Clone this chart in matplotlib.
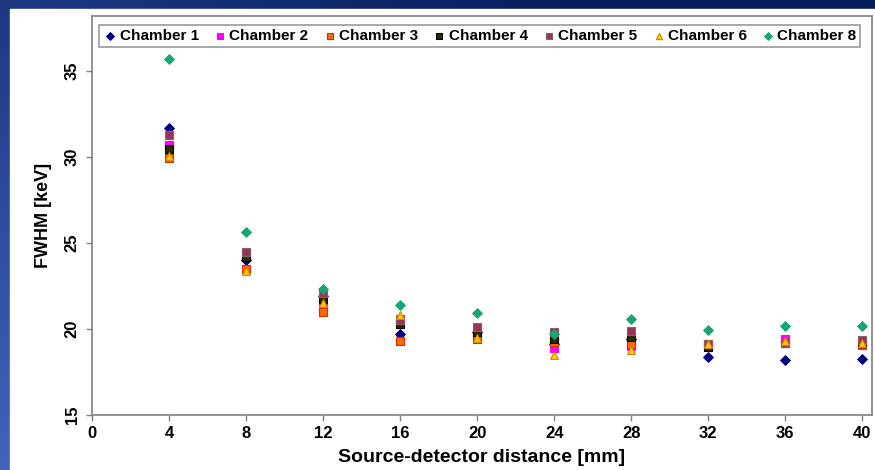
import numpy as np
import matplotlib
matplotlib.use("Agg")
import matplotlib.pyplot as plt
from matplotlib import font_manager

names = {f.name for f in font_manager.fontManager.ttflist}
narrow = 'Liberation Sans Narrow' if 'Liberation Sans Narrow' in names else 'Liberation Sans'
plt.rcParams['font.family'] = ['Liberation Sans', 'DejaVu Sans']

# distances [mm]
distance = [4, 8, 12, 16, 20, 24, 28, 32, 36, 40]

# FWHM [keV] per chamber
chamber_1 = [31.7, 24.0, 21.9, 19.7, 19.85, 19.1, 19.4, 18.4, 18.2, 18.25]
chamber_2 = [30.7, 24.4, 21.3, 20.6, 19.7, 18.9, 19.0, 19.15, 19.4, 19.05]
chamber_3 = [29.95, 23.5, 21.0, 19.3, 19.4, 19.25, 19.15, 19.1, 19.2, 19.15]
chamber_4 = [30.45, 24.2, 21.75, 20.3, 19.85, 19.4, 19.55, 18.95, 19.2, 19.2]
chamber_5 = [31.3, 24.5, 22.1, 20.55, 20.1, 19.85, 19.9, 19.15, 19.2, 19.35]
chamber_6 = [30.05, 23.4, 21.5, 20.8, 19.5, 18.5, 18.8, 19.1, 19.3, 19.2]
chamber_8 = [35.7, 25.65, 22.35, 21.4, 20.95, 19.7, 20.6, 19.95, 20.2, 20.2]

labels = ["Chamber 1", "Chamber 2", "Chamber 3", "Chamber 4",
          "Chamber 5", "Chamber 6", "Chamber 8"]
series = [chamber_1, chamber_2, chamber_3, chamber_4, chamber_5, chamber_6, chamber_8]
styles = [
    dict(marker='D', color='#000080', edgecolor='#000080', s=24),
    dict(marker='s', color='#ff00ff', edgecolor='#ff00ff', s=32),
    dict(marker='s', color='#ff6a00', edgecolor='#d03000', s=30),
    dict(marker='s', color='#2a2a00', edgecolor='#000000', s=28),
    dict(marker='s', color='#993355', edgecolor='#8a6070', s=36),
    dict(marker='^', color='#ffcc00', edgecolor='#e08000', s=32),
    dict(marker='D', color='#14a870', edgecolor='#14a870', s=24),
]

fig = plt.figure(figsize=(8.75, 4.7), dpi=100)

# blue gradient background behind white panel
bg = fig.add_axes([0, 0, 1, 1], zorder=-10)
xx, yy = np.meshgrid(np.linspace(0, 1, 200), np.linspace(0, 1, 100))
t = np.clip(0.6 * xx + 0.6 * yy, 0, 1)
c0 = np.array([0x42, 0x62, 0xbc]) / 255
c1 = np.array([0x06, 0x1c, 0x5c]) / 255
img = c0[None, None, :] * (1 - t[..., None]) + c1[None, None, :] * t[..., None]
bg.imshow(img, origin='lower', extent=[0, 1, 0, 1], aspect='auto')
bg.add_patch(plt.Rectangle((10 / 875, 0), 1, 1 - 9 / 470, color='white',
                           transform=bg.transAxes))
bg.set_xlim(0, 1)
bg.set_ylim(0, 1)
bg.axis('off')

ax = fig.add_axes([92 / 875, 55 / 470, 780 / 875, 399 / 470])
for vals, lab, st in zip(series, labels, styles):
    ax.scatter(distance, vals, label=lab, linewidths=0.8, zorder=3, **st)

ax.set_xlim(0, 40.5)
ax.set_ylim(15, 38.2)
ax.set_xticks(range(0, 41, 4))
ax.set_yticks(range(15, 36, 5))
for sp in ax.spines.values():
    sp.set_color('#808080')
    sp.set_linewidth(1.2)
ax.tick_params(axis='both', direction='out', length=4, color='#808080', width=1)
ax.tick_params(axis='x', pad=4)
ax.tick_params(axis='y', pad=5)
for tl in ax.get_xticklabels():
    tl.set_fontfamily(narrow)
    tl.set_fontweight('bold')
    tl.set_fontsize(12)
for tl in ax.get_yticklabels():
    tl.set_fontfamily(narrow)
    tl.set_fontweight('bold')
    tl.set_fontsize(12)
    tl.set_rotation(90)
    tl.set_va('center')

ax.set_xlabel("Source-detector distance [mm]", fontsize=14, fontweight='bold',
              family=narrow, labelpad=6)
ax.set_ylabel("FWHM [keV]", fontsize=13, fontweight='bold', labelpad=9)

leg = ax.legend(loc='upper center', bbox_to_anchor=(0.497, 0.984), ncol=7,
                frameon=True, fancybox=False, edgecolor='#808080',
                prop={'size': 11, 'weight': 'bold'}, handletextpad=0.1,
                columnspacing=0.9, borderpad=0.25, handlelength=1.0,
                markerscale=0.8, borderaxespad=0.2)
leg.get_frame().set_linewidth(1.2)

fig.savefig("out.png", dpi=100)
